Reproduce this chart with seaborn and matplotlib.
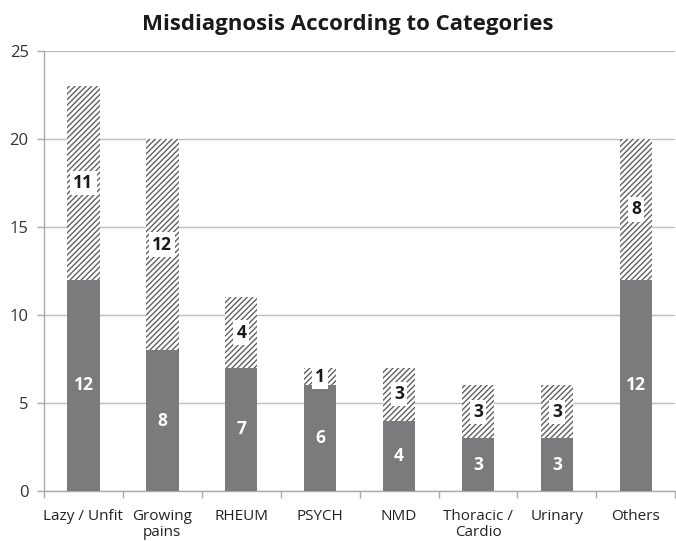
import matplotlib
matplotlib.use("Agg")
import matplotlib.pyplot as plt
import seaborn as sns
import pandas as pd
import numpy as np

categories = ["Lazy / Unfit", "Growing\npains", "RHEUM", "PSYCH", "NMD", "Thoracic /\nCardio", "Urinary", "Others"]
solid_values = [12, 8, 7, 6, 4, 3, 3, 12]
hatched_values = [11, 12, 4, 1, 3, 3, 3, 8]
y_ticks = [0, 5, 10, 15, 20, 25]
title = "Misdiagnosis According to Categories"

sns.set_theme(style="white")
plt.rcParams["font.family"] = ["Open Sans", "DejaVu Sans"]
plt.rcParams["hatch.linewidth"] = 1.0

totals = [a + b for a, b in zip(solid_values, hatched_values)]
df = pd.DataFrame({"cat": categories, "solid": solid_values, "hatched": hatched_values, "total": totals})

fig = plt.figure(figsize=(6.76, 5.41), dpi=100)
ax = fig.add_axes([0.065, 0.0924, 0.934, 0.8133])

sns.barplot(data=df, x="cat", y="total", ax=ax, color="white", width=0.41,
            hatch="/////", edgecolor="#606060", linewidth=0, saturation=1, zorder=2)
sns.barplot(data=df, x="cat", y="solid", ax=ax, color="#7b7b7d", width=0.41,
            linewidth=0, saturation=1, zorder=3)

hatch_bars = ax.containers[0]
for bar in hatch_bars:
    bar.set_hatch("//////")
    bar.set_edgecolor("#606060")
    bar.set_linewidth(0)

# labels
for i, (s, h) in enumerate(zip(solid_values, hatched_values)):
    ax.text(i, s / 2, str(s), ha="center", va="center", color="white",
            fontsize=12.5, fontweight="bold", zorder=5)
    ax.text(i, s + h / 2, str(h), ha="center", va="center", color="#1a1a1a",
            fontsize=12.5, fontweight="bold", zorder=5,
            bbox=dict(boxstyle="square,pad=0.18", facecolor="white", edgecolor="none"))

ax.set_ylim(0, 25)
ax.set_xlim(-0.5, 7.5)
ax.set_yticks(y_ticks)
ax.set_yticklabels([str(t) for t in y_ticks], fontsize=12, color="#333333")
ax.set_xticks(range(len(categories)))
ax.set_xticklabels(categories, fontsize=11, color="#222222", linespacing=1.1)
ax.set_xticks(np.arange(-0.5, 8.0, 1.0), minor=True)
ax.tick_params(axis="x", which="major", length=0, pad=13)
ax.tick_params(axis="x", which="minor", length=5, color="#aaaaaa", width=1, direction="out", bottom=True)
ax.tick_params(axis="y", length=5, color="#aaaaaa", width=1, direction="out", left=True, pad=6)
ax.set_xlabel("")
ax.set_ylabel("")
ax.yaxis.grid(True, color="#bdbdbd", linewidth=1)
ax.set_axisbelow(True)
for side in ["top", "right"]:
    ax.spines[side].set_visible(False)
for side in ["left", "bottom"]:
    ax.spines[side].set_color("#aaaaaa")
    ax.spines[side].set_linewidth(1)

fig.text(0.515, 0.955, title, ha="center", va="center", fontsize=16, fontweight="bold", color="#1a1a1a")

fig.savefig("out.png", dpi=100)
